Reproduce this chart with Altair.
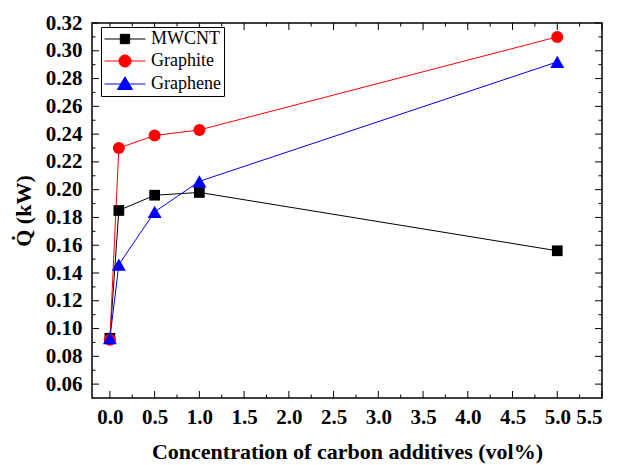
import altair as alt
import pandas as pd

# ---- data ----
conc = [0.0, 0.1, 0.5, 1.0, 5.0]
series_names = ["MWCNT", "Graphite", "Graphene"]
mwcnt = [0.093, 0.185, 0.196, 0.198, 0.156]
graphite = [0.092, 0.230, 0.239, 0.243, 0.310]
graphene = [0.093, 0.146, 0.184, 0.206, 0.292]
colors = ["#000000", "#ff0000", "#0000ff"]
shapes = ["square", "circle", "triangle-up"]
marker_sizes = [115, 144, 196]
# legend symbols: line segment + marker (unit = half of sqrt(symbol size))
legend_shapes = [
    "M-1.55,0H5.91M1.33,-0.85V0.85H3.03V-0.85Z",
    "M-1.55,0H5.91M1.08,0A1.1,1.1,0,1,0,3.28,0A1.1,1.1,0,1,0,1.08,0Z",
    "M-1.55,0H5.91M2.18,-1.3L3.55,1.0L0.81,1.0Z",
]

x_major = [0.0, 0.5, 1.0, 1.5, 2.0, 2.5, 3.0, 3.5, 4.0, 4.5, 5.0, 5.5]
x_minor = [0.25, 0.75, 1.25, 1.75, 2.25, 2.75, 3.25, 3.75, 4.25, 4.75, 5.25]
y_major = [0.06, 0.08, 0.10, 0.12, 0.14, 0.16, 0.18, 0.20, 0.22, 0.24, 0.26, 0.28, 0.30, 0.32]
y_minor = [0.07, 0.09, 0.11, 0.13, 0.15, 0.17, 0.19, 0.21, 0.23, 0.25, 0.27, 0.29, 0.31]
x_min, x_max = -0.2, 5.5
y_min, y_max = 0.05, 0.32

rows = []
for name, vals in zip(series_names, [mwcnt, graphite, graphene]):
    for c, v in zip(conc, vals):
        rows.append({"conc": c, "q": v, "series": name})
df = pd.DataFrame(rows)

FONT = "Liberation Serif"
W, H = 510, 375

xs = alt.Scale(domain=[x_min, x_max], nice=False, zero=False)
ys = alt.Scale(domain=[y_min, y_max], nice=False, zero=False)
color_scale = alt.Scale(domain=series_names, range=colors)

base = alt.Chart(df)

x_main = alt.Axis(orient="bottom", values=x_major, format=".1f", ticks=False,
                  domain=False, grid=False, labelFont=FONT, labelFontSize=21,
                  labelFontWeight="bold", labelColor="black", labelPadding=8,
                  title="Concentration of carbon additives (vol%)", titleFont=FONT,
                  titleFontSize=22, titleFontWeight="bold", titleColor="black",
                  titlePadding=14)
y_main = alt.Axis(orient="left", values=y_major, format=".2f", ticks=False,
                  domain=False, grid=False, labelFont=FONT, labelFontSize=21,
                  labelFontWeight="bold", labelColor="black", labelPadding=10,
                  title="Q\u0307 (kW)", titleFont=FONT, titleFontSize=22,
                  titleFontWeight="bold", titleColor="black", titlePadding=10)

layers = []
# series lines (first one carries the axes)
for i, (name, col) in enumerate(zip(series_names, colors)):
    layers.append(
        base.transform_filter(alt.datum.series == name)
        .mark_line(strokeWidth=1, color=col)
        .encode(x=alt.X("conc:Q", scale=xs, axis=x_main if i == 0 else None),
                y=alt.Y("q:Q", scale=ys, axis=y_main if i == 0 else None))
    )
# series markers
for name, shp, col, sz in zip(series_names, shapes, colors, marker_sizes):
    layers.append(
        base.transform_filter(alt.datum.series == name)
        .mark_point(filled=True, shape=shp, color=col, size=sz, opacity=1)
        .encode(x=alt.X("conc:Q", scale=xs, axis=None),
                y=alt.Y("q:Q", scale=ys, axis=None))
    )

# inward ticks on all four sides
xt_major = pd.DataFrame({"v": x_major})
xt_minor = pd.DataFrame({"v": x_minor})
yt_major = pd.DataFrame({"v": y_major})
yt_minor = pd.DataFrame({"v": y_minor})

for tdf, ln in [(xt_major, 7), (xt_minor, 3.5)]:
    for edge, off in [(y_min, -ln / 2), (y_max, ln / 2)]:
        layers.append(
            alt.Chart(tdf).mark_tick(orient="vertical", size=ln, thickness=1, color="black",
                                     yOffset=off, opacity=1)
            .encode(x=alt.X("v:Q", scale=xs, axis=None),
                    y=alt.YDatum(edge, scale=ys, axis=None))
        )
for tdf, ln in [(yt_major, 7), (yt_minor, 3.5)]:
    for edge, off in [(x_min, ln / 2), (x_max, -ln / 2)]:
        layers.append(
            alt.Chart(tdf).mark_tick(orient="horizontal", size=ln, thickness=1, color="black",
                                     xOffset=off, opacity=1)
            .encode(y=alt.Y("v:Q", scale=ys, axis=None),
                    x=alt.XDatum(edge, scale=xs, axis=None))
        )

leg = alt.Legend(title=None, orient="none", legendX=9, legendY=4, symbolSize=121,
                 symbolStrokeWidth=1, labelFont=FONT, labelFontSize=18,
                 labelColor="black", labelOffset=29, padding=3, rowPadding=4,
                 strokeColor="black", fillColor="white")

layers.append(
    base.transform_filter("false").mark_point(filled=True, opacity=1).encode(
        x=alt.X("conc:Q", scale=xs, axis=None),
        y=alt.Y("q:Q", scale=ys, axis=None),
        shape=alt.Shape("series:N", scale=alt.Scale(domain=series_names, range=legend_shapes),
                        legend=leg),
        fill=alt.Fill("series:N", scale=color_scale, legend=leg),
        stroke=alt.Stroke("series:N", scale=color_scale, legend=leg),
    )
)

chart = alt.layer(*layers).resolve_axis(x="independent", y="independent").properties(
    width=W, height=H,
    autosize=alt.AutoSizeParams(type="none"),
    padding={"left": 92, "top": 23, "right": 23, "bottom": 67},
    background="white",
).configure_view(stroke="black", strokeWidth=1.5)

chart.save("out.html", embed_options={"renderer": "svg", "actions": False})
